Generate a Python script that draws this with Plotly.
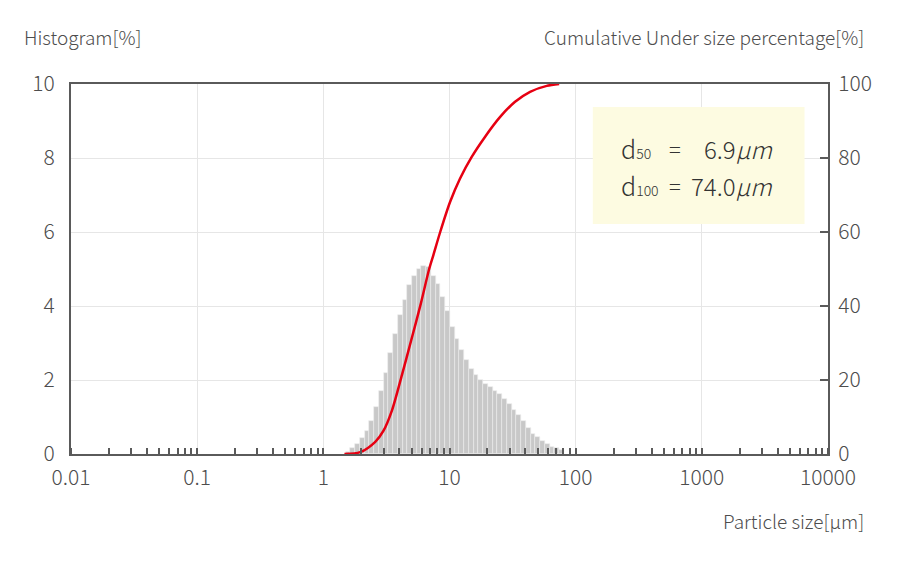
import plotly.graph_objects as go

# ============================================
# DATA
# ============================================
# channel edges (um) of the histogram bars
channel_edges = [1.499, 1.635, 1.783, 1.944, 2.121, 2.312, 2.522, 2.750, 2.999,
                 3.270, 3.566, 3.889, 4.241, 4.625, 5.044, 5.500, 5.998,
                 6.541, 7.133, 7.778, 8.482, 9.250, 10.09, 11.00, 12.00,
                 13.08, 14.27, 15.56, 16.96, 18.50, 20.17, 22.00, 23.99,
                 26.16, 28.53, 31.11, 33.93, 37.00, 40.35, 44.00, 47.98,
                 52.33, 57.06, 62.23, 67.86, 74.00, 80.70]

histogram_pct = [0.05, 0.17, 0.28, 0.42, 0.62, 0.89, 1.28, 1.69, 2.20, 2.72,
                 3.24, 3.76, 4.17, 4.57, 4.82, 5.00, 5.08, 5.05, 4.82, 4.60,
                 4.25, 3.86, 3.44, 3.11, 2.82, 2.54, 2.30, 2.13, 2.00, 1.89,
                 1.80, 1.71, 1.62, 1.48, 1.35, 1.19, 1.05, 0.89, 0.71, 0.55,
                 0.45, 0.35, 0.27, 0.20, 0.15, 0.10]

cum_size = [1.47, 1.96, 2.58, 3.0, 3.5, 4.2, 4.96, 5.87, 6.9, 7.47, 8.44,
            10.1, 12.1, 15.0, 19.1, 25.2, 33.1, 43.5, 59.0, 74.0]
cum_pct = [0, 0.5, 3.3, 6.3, 11.8, 21.4, 30.6, 40.1, 50.0, 53.9, 60.0,
           68.1, 74.4, 80.3, 85.7, 91.1, 95.2, 97.9, 99.5, 100]

x_tickvals = [0.01, 0.1, 1, 10, 100, 1000, 10000]
x_ticktext = ['0.01', '0.1', '1', '10', '100', '1000', '10000']

d50 = '6.9'
d100 = '74.0'

# ============================================
# STYLE
# ============================================
FONT = 'Noto Sans CJK JP'
TXT = '#4d4d4d'
AXIS = '#5a5a5a'
GRID = '#e6e6e6'
RED = '#e60012'
BAR = '#c8c8c8'

# page has an 8px body margin -> figure is 892x555, plot area
# in page pixels: x 70.5..828.5, y 84..454
def px(x):
    return (x - 70.5) / 758

def py(y):
    return (454 - y) / 370

fig = go.Figure()

fig.add_trace(go.Bar(
    x=channel_edges[:-1],
    y=histogram_pct,
    width=[b - a for a, b in zip(channel_edges[:-1], channel_edges[1:])],
    offset=0,
    marker=dict(color=BAR, line=dict(color='#ececec', width=0.6)),
    showlegend=False,
))

fig.add_trace(go.Scatter(
    x=cum_size, y=cum_pct,
    mode='lines',
    line=dict(color=RED, width=2.5, shape='spline', smoothing=0.8),
    yaxis='y2',
    showlegend=False,
))

# d50 / d100 box
fig.add_shape(type='rect', xref='paper', yref='paper',
              x0=px(593), x1=px(805), y0=py(224), y1=py(107),
              fillcolor='#fdfbe1', line=dict(width=0), layer='above')

for row_y, label, val in [(148, '50', d50), (185, '100', d100)]:
    fig.add_annotation(xref='paper', yref='paper', x=px(619), y=py(row_y),
                       xanchor='left', yanchor='middle', showarrow=False,
                       text=f'd<span style="font-size:14px">{label}</span>',
                       font=dict(family=FONT, size=25, color='#333', weight=300))
    fig.add_annotation(xref='paper', yref='paper', x=px(675), y=py(row_y),
                       xanchor='center', yanchor='middle', showarrow=False,
                       text='=', font=dict(family=FONT, size=22, color='#333', weight=300))
    fig.add_annotation(xref='paper', yref='paper', x=px(775), y=py(row_y),
                       xanchor='right', yanchor='middle', showarrow=False,
                       text=f'{val}<i>µm</i>',
                       font=dict(family=FONT, size=24, color='#333', weight=300))

# axis titles
fig.add_annotation(xref='paper', yref='paper', x=px(21), y=py(37),
                   xanchor='left', yanchor='middle', showarrow=False,
                   text='Histogram[%]',
                   font=dict(family=FONT, size=19, color=TXT, weight=300))
fig.add_annotation(xref='paper', yref='paper', x=px(867), y=py(37),
                   xanchor='right', yanchor='middle', showarrow=False,
                   text='Cumulative Under size percentage[%]',
                   font=dict(family=FONT, size=19, color=TXT, weight=300))
fig.add_annotation(xref='paper', yref='paper', x=px(867), y=py(520),
                   xanchor='right', yanchor='middle', showarrow=False,
                   text='Particle size[µm]',
                   font=dict(family=FONT, size=19, color=TXT, weight=300))

tick_font = dict(family=FONT, size=21, color=TXT, weight=300)

fig.update_layout(
    width=892, height=555,
    margin=dict(l=62.5, r=71.5, t=76, b=109),
    paper_bgcolor='white', plot_bgcolor='white',
    font=dict(family=FONT, color=TXT),
    bargap=0,
    xaxis=dict(
        type='log', range=[-2, 4],
        tickvals=x_tickvals, ticktext=x_ticktext,
        ticks='', showgrid=True, gridcolor=GRID, gridwidth=1,
        showline=True, linecolor=AXIS, linewidth=2, mirror=True,
        tickfont=tick_font, ticklabelstandoff=4,
        minor=dict(ticks='inside', ticklen=6, tickwidth=1.5,
                   tickcolor=AXIS, dtick='D1', showgrid=False),
        layer='above traces', zeroline=False,
    ),
    yaxis=dict(
        range=[0, 10], dtick=2, ticks='',
        showgrid=True, gridcolor=GRID, gridwidth=1,
        showline=True, linecolor=AXIS, linewidth=2,
        tickfont=tick_font, ticklabelstandoff=10,
        zeroline=False,
    ),
    yaxis2=dict(
        range=[0, 100], dtick=20, overlaying='y', side='right',
        ticks='inside', ticklen=8, tickwidth=1.5, tickcolor=AXIS,
        showgrid=False, showline=True, linecolor=AXIS, linewidth=2,
        tickfont=tick_font, ticklabelstandoff=4,
        zeroline=False,
    ),
)

fig.write_html('out.html')
